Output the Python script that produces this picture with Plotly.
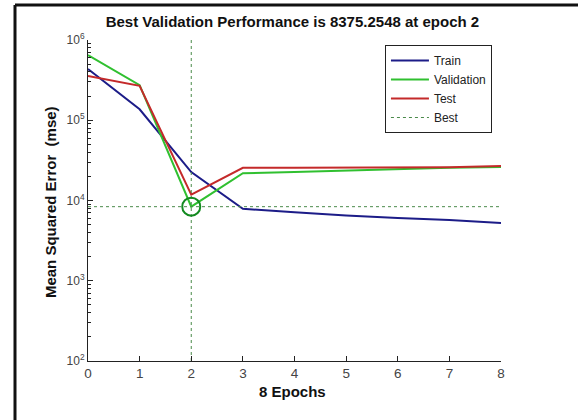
import plotly.graph_objects as go

epochs = [0, 1, 2, 3, 4, 5, 6, 7, 8]
train = [434000, 137000, 22600, 7870, 7140, 6500, 6070, 5730, 5250]
validation = [650000, 274000, 8375.2548, 21900, 22600, 23700, 24800, 25600, 26100]
test = [355000, 268000, 11800, 25600, 25600, 25700, 25800, 26000, 26900]
best_epoch = 2
best_value = 8375.2548
ytick_vals = [1e2, 1e3, 1e4, 1e5, 1e6]
ytick_text = ["10<sup>2</sup>", "10<sup>3</sup>", "10<sup>4</sup>", "10<sup>5</sup>", "10<sup>6</sup>"]
title_text = "Best Validation Performance is 8375.2548 at epoch 2"

FONT = "Arial, Liberation Sans, sans-serif"
C_TRAIN = "#1c1c88"
C_VAL = "#30c030"
C_TEST = "#c42a2a"
C_BEST = "#4a8a4a"

fig = go.Figure()
fig.add_trace(go.Scatter(x=epochs, y=train, mode="lines", name="Train",
                         line=dict(color=C_TRAIN, width=2)))
fig.add_trace(go.Scatter(x=epochs, y=validation, mode="lines", name="Validation",
                         line=dict(color=C_VAL, width=2)))
fig.add_trace(go.Scatter(x=epochs, y=test, mode="lines", name="Test",
                         line=dict(color=C_TEST, width=2)))
fig.add_trace(go.Scatter(x=[epochs[0], epochs[-1]], y=[best_value, best_value], mode="lines",
                         name="Best", line=dict(color=C_BEST, width=1, dash="dot")))
fig.add_trace(go.Scatter(x=[best_epoch, best_epoch], y=[ytick_vals[0], ytick_vals[-1]], mode="lines",
                         showlegend=False, line=dict(color=C_BEST, width=1, dash="dot")))
fig.add_trace(go.Scatter(x=[best_epoch], y=[best_value], mode="markers", showlegend=False,
                         marker=dict(symbol="circle-open", size=18, color="#138a20",
                                     line=dict(width=2, color="#138a20"))))

minor_vals = [m * 10 ** e for e in range(2, 6) for m in range(2, 10)]

fig.update_layout(
    width=578, height=420,
    margin=dict(l=88, r=77, t=40, b=59),
    paper_bgcolor="white", plot_bgcolor="white",
    font=dict(family=FONT, size=12, color="#222"),
    title=dict(text="<b>" + title_text + "</b>", x=0.495, xref="paper",
               y=1 - 21.7 / 420, yanchor="middle", xanchor="center",
               font=dict(family=FONT, size=15, color="#111")),
    showlegend=True,
    legend=dict(x=0.719, y=1 - (45 - 40) / 321, xanchor="left", yanchor="top",
                bgcolor="white", bordercolor="#222", borderwidth=1,
                font=dict(family=FONT, size=12, color="#222"),
                tracegroupgap=0, itemwidth=38),
    xaxis=dict(range=[0, 8], tickvals=epochs, ticks="inside", ticklen=5,
               tickcolor="#222", showline=True, linecolor="#222", linewidth=1,
               mirror=False, showgrid=False, zeroline=False,
               tickfont=dict(family=FONT, size=13.5, color="#444")),
    yaxis=dict(type="log", range=[2, 6], tickvals=ytick_vals, ticktext=ytick_text,
               ticks="inside", ticklen=5, tickcolor="#222", showline=True,
               linecolor="#222", linewidth=1, mirror=False, showgrid=False,
               zeroline=False, tickfont=dict(family=FONT, size=12, color="#444"),
               minor=dict(tickvals=minor_vals, ticks="inside", ticklen=3,
                          tickcolor="#222", showgrid=False)),
    annotations=[
        dict(text="<b>Mean Squared Error  (mse)</b>", xref="paper", yref="paper",
             x=(50 - 88) / 413, y=0.495, textangle=-90, showarrow=False,
             xanchor="center", yanchor="middle",
             font=dict(family=FONT, size=15, color="#111")),
        dict(text="<b>8 Epochs</b>", xref="paper", yref="paper",
             x=0.495, y=-31 / 321, showarrow=False, xanchor="center", yanchor="middle",
             font=dict(family=FONT, size=15, color="#111")),
    ],
    shapes=[
        dict(type="line", xref="paper", yref="paper", x0=(15 - 88) / 413, x1=(15 - 88) / 413,
             y0=1 - (420 - 40) / 321, y1=1 - (5 - 40) / 321, line=dict(color="#111", width=3)),
        dict(type="line", xref="paper", yref="paper", x0=(15 - 88) / 413, x1=(578 - 88) / 413,
             y0=1 - (5 - 40) / 321, y1=1 - (5 - 40) / 321, line=dict(color="#111", width=3)),
    ],
)

fig.write_html("out.html")
